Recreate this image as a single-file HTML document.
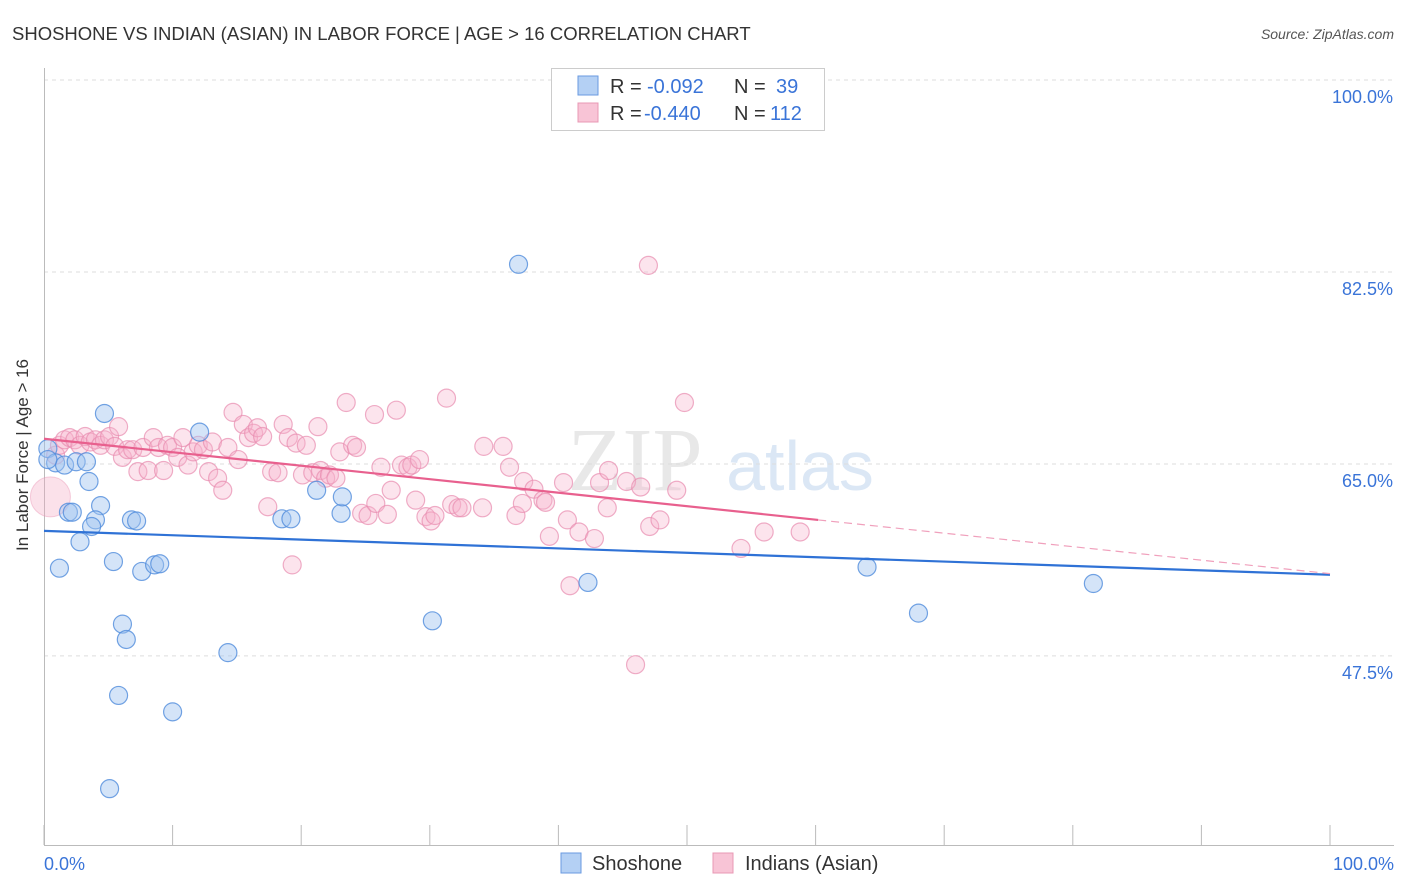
<!DOCTYPE html>
<html><head><meta charset="utf-8"><style>
body{margin:0;background:#fff;font-family:"Liberation Sans",sans-serif;}
svg{display:block}
</style></head><body>
<svg id="chart" width="1406" height="892">
<text x="12" y="40" font-size="18.5" fill="#333">SHOSHONE VS INDIAN (ASIAN) IN LABOR FORCE | AGE &gt; 16 CORRELATION CHART</text>
<text x="1394" y="39" font-size="14" fill="#555" font-style="italic" text-anchor="end">Source: ZipAtlas.com</text>
<g>
<text x="635" y="490" font-size="90" fill="#e8e8e8" font-family="Liberation Serif,serif" text-anchor="middle">ZIP</text>
<text x="800" y="490" font-size="70" fill="#dbe7f5" text-anchor="middle">atlas</text>
</g>
<g id="grid"></g>
<g id="axes"></g>
<g id="marks"></g>
<text x="28" y="455" font-size="17" fill="#333" text-anchor="middle" transform="rotate(-90 28 455)">In Labor Force | Age &gt; 16</text>
<text x="44" y="870" font-size="18" fill="#3a74d8">0.0%</text>
<text x="1394" y="870" font-size="18" fill="#3a74d8" text-anchor="end">100.0%</text>
<g>
<rect x="551.5" y="68.5" width="273" height="62" fill="#fff" stroke="#ccc"/>
<rect x="578" y="76" width="20" height="19" fill="#b4d0f4" stroke="#6a9ae0"/>
<rect x="578" y="103" width="20" height="19" fill="#f8c4d6" stroke="#e898b4"/>
<text y="93" font-size="20"><tspan x="610" fill="#333">R = </tspan><tspan x="647" fill="#3a74d8">-0.092</tspan><tspan x="734" fill="#333">N = </tspan><tspan x="776" fill="#3a74d8">39</tspan></text>
<text y="120" font-size="20"><tspan x="610" fill="#333">R = </tspan><tspan x="644" fill="#3a74d8">-0.440</tspan><tspan x="734" fill="#333">N = </tspan><tspan x="770" fill="#3a74d8">112</tspan></text>
</g>
<g>
<rect x="561" y="853" width="20" height="20" fill="#b4d0f4" stroke="#6a9ae0"/>
<text x="592" y="870" font-size="20" fill="#333">Shoshone</text>
<rect x="713" y="853" width="20" height="20" fill="#f8c4d6" stroke="#e898b4"/>
<text x="745" y="870" font-size="20" fill="#333">Indians (Asian)</text>
</g>
</svg>
<script>
const yTicks=[100,82.5,65,47.5];
const yTickLabels=["100.0%","82.5%","65.0%","47.5%"];
const xTicks=[0,10,20,30,40,50,60,70,80,90,100];
const blueX=[0.3,0.9,1.6,2.5,3.3,3.5,4.4,1.9,2.2,4.0,3.7,2.8,1.2,5.4,4.7,6.1,6.4,5.8,5.1,6.8,7.2,7.6,8.6,9.0,10.0,12.1,14.3,18.5,19.2,21.2,23.1,23.2,30.2,36.9,42.3,64.0,68.0,81.6,0.3];
const blueY=[66.4,65.1,64.9,65.2,65.2,63.4,61.2,60.6,60.6,59.9,59.3,57.9,55.5,56.1,69.6,50.4,49.0,43.9,35.4,59.9,59.8,55.2,55.8,55.9,42.4,67.9,47.8,60.0,60.0,62.6,60.5,62.0,50.7,83.2,54.2,55.6,51.4,54.1,65.4];
const pinkX=[0.9,1.2,1.6,2.0,2.4,2.8,3.2,3.6,4.0,4.4,4.7,5.1,5.5,5.8,6.1,6.5,6.9,7.3,7.7,8.1,8.5,8.9,9.3,9.6,10.0,10.4,10.8,11.2,11.6,12.0,12.4,12.8,13.1,13.5,13.9,14.3,14.7,15.1,15.5,15.9,16.3,16.6,17.0,17.4,17.7,18.2,18.6,19.0,19.3,19.6,20.1,20.4,20.9,21.3,21.5,21.9,22.2,22.7,23.0,23.5,24.0,24.3,24.7,25.2,25.7,25.8,26.2,26.7,27.0,27.4,27.8,28.3,28.6,28.9,29.2,29.7,30.1,30.4,31.3,31.7,32.2,32.5,34.1,34.2,35.7,36.2,36.7,37.2,37.3,38.1,38.8,39.0,39.3,40.4,40.7,40.9,41.6,42.8,43.2,43.8,43.9,45.3,46.0,46.4,47.0,47.1,47.9,49.2,49.8,54.2,56.0,58.8];
const pinkY=[65.8,66.7,67.2,67.4,67.2,66.7,67.5,67.0,67.2,66.7,67.2,67.5,66.6,68.4,65.6,66.3,66.3,64.3,66.5,64.4,67.4,66.5,64.4,66.7,66.5,65.6,67.4,64.9,66.1,66.7,66.3,64.3,67.0,63.7,62.6,66.5,69.7,65.4,68.6,67.4,67.8,68.3,67.5,61.1,64.3,64.2,68.6,67.4,55.8,66.9,64.0,66.7,64.2,68.4,64.4,63.7,64.0,63.7,66.1,70.6,66.7,66.5,60.5,60.3,69.5,61.4,64.7,60.4,62.6,69.9,64.9,64.7,64.9,61.7,65.4,60.2,59.8,60.3,71.0,61.3,61.0,61.0,61.0,66.6,66.6,64.7,60.3,61.4,63.4,62.7,61.7,61.5,58.4,63.3,59.9,53.9,58.8,58.2,63.3,61.0,64.4,63.4,46.7,62.9,83.1,59.3,59.9,62.6,70.6,57.3,58.8,58.8];
const bigPink={x:0.5,y:62.0};
const blueTrend=[58.9,54.9];
const pinkTrend=[67.3,55.0];
const pinkSolidEnd=60.2;

const NS="http://www.w3.org/2000/svg";
const X=v=>44+v*12.86;
const Y=v=>80+(100-v)*10.97;
function mk(tag,attrs,parent){const e=document.createElementNS(NS,tag);for(const k in attrs)e.setAttribute(k,attrs[k]);parent.appendChild(e);return e;}
const grid=document.getElementById('grid'),axes=document.getElementById('axes'),marks=document.getElementById('marks');
yTicks.forEach((t,i)=>{
 const l=mk('line',{x1:44,x2:1394,y1:Y(t),y2:Y(t),stroke:'#ddd','stroke-dasharray':'4 4'},grid);
 
 
 const tx=mk('text',{x:1393,y:Y(t)+23,'font-size':18,fill:'#3a74d8','text-anchor':'end'},grid);
 tx.textContent=yTickLabels[i];
 
 
});
const la=mk('line',{x1:44.5,x2:44.5,y1:68,y2:845,stroke:'#bbb'},axes);


const ba=mk('line',{x1:44,x2:1394,y1:845.5,y2:845.5,stroke:'#bbb'},axes);


xTicks.forEach(t=>{
 const l=mk('line',{x1:X(t),x2:X(t),y1:825,y2:845,stroke:'#bbb'},axes);
 
 
});
const bp=mk('circle',{cx:X(bigPink.x),cy:Y(bigPink.y),r:20,fill:'rgba(244,170,196,0.35)',stroke:'rgba(232,140,175,0.4)'},marks);


pinkX.forEach((x,i)=>{
 const c=mk('circle',{cx:X(x),cy:Y(pinkY[i]),r:9,fill:'rgba(246,178,202,0.35)',stroke:'rgba(232,140,175,0.7)','stroke-width':1.2},marks);
 
 
});
blueX.forEach((x,i)=>{
 const c=mk('circle',{cx:X(x),cy:Y(blueY[i]),r:9,fill:'rgba(160,196,240,0.45)',stroke:'rgba(80,140,220,0.8)','stroke-width':1.2},marks);
 
 
});
const bt=mk('line',{x1:X(0),y1:Y(blueTrend[0]),x2:X(100),y2:Y(blueTrend[1]),stroke:'#2f72d6','stroke-width':2.2},marks);


const pAt=v=>pinkTrend[0]+(pinkTrend[1]-pinkTrend[0])*v/100;
const pt=mk('line',{x1:X(0),y1:Y(pinkTrend[0]),x2:X(pinkSolidEnd),y2:Y(pAt(pinkSolidEnd)),stroke:'#e8608e','stroke-width':2.2},marks);


const pd=mk('line',{x1:X(pinkSolidEnd),y1:Y(pAt(pinkSolidEnd)),x2:X(100),y2:Y(pinkTrend[1]),stroke:'#f0a0bc','stroke-width':1.2,'stroke-dasharray':'8 5'},marks);


</script>
</body></html>
